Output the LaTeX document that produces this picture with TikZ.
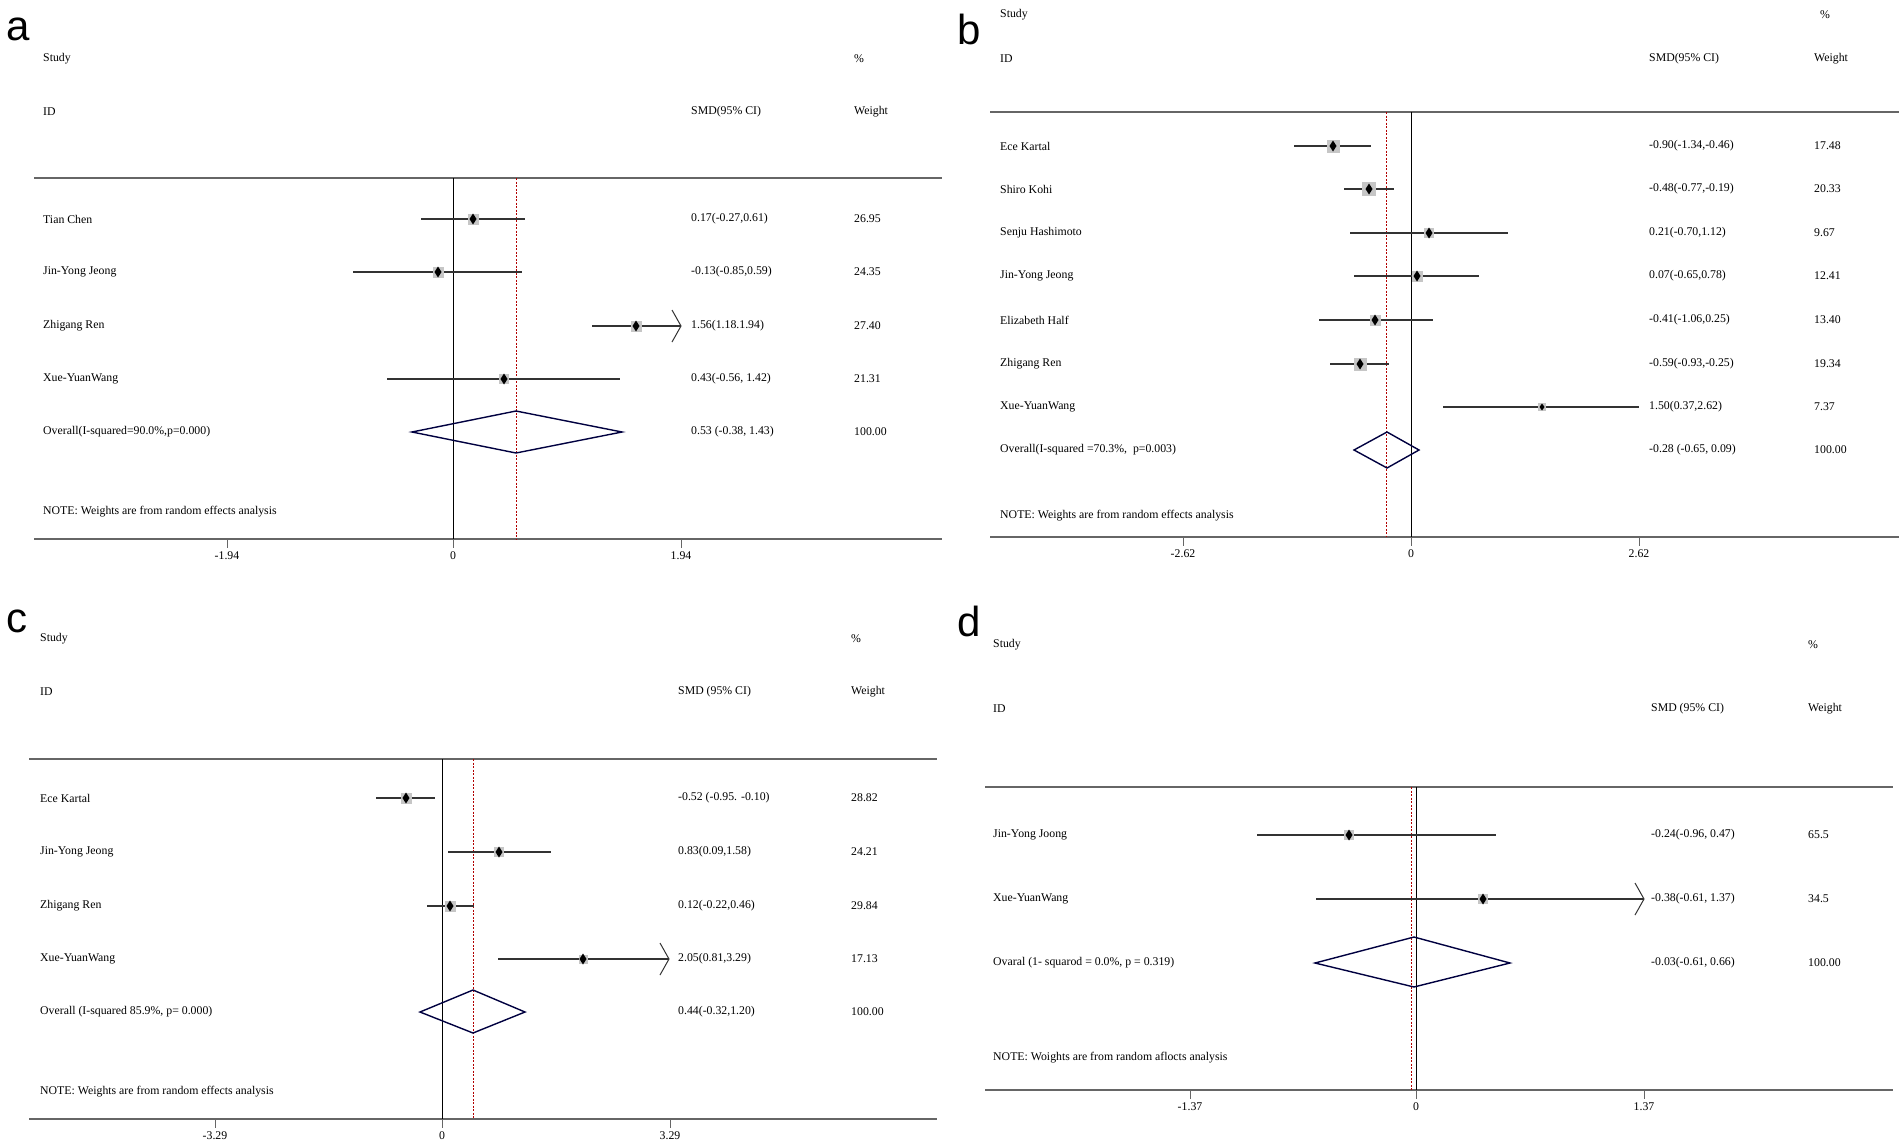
\documentclass[tikz,border=0pt]{standalone}
\usepackage{fontspec}
\setmainfont{Liberation Serif}
\newfontfamily\lettfont{Liberation Sans}
\begin{document}
\begin{tikzpicture}[x=1pt,y=-1pt,
  txt/.style={font=\fontsize{11.8}{13}\selectfont,anchor=west,inner sep=0pt},
  tlab/.style={font=\fontsize{11.8}{13}\selectfont,anchor=north,inner sep=0pt},
  plet/.style={font=\lettfont\fontsize{42}{42}\selectfont,anchor=west,inner sep=0pt},
  hline/.style={draw=gray!80!black,line width=1.2pt},
  zline/.style={draw=black,line width=0.7pt},
  rline/.style={draw=red!70!black,dashed,dash pattern=on 2pt off 1.5pt,line width=0.6pt},
  ci/.style={draw=black!80,line width=1.3pt},
  dia/.style={draw=blue!25!black,line width=1.4pt}]
\useasboundingbox (0,0) rectangle (1902,1146);
\fill[white] (0,0) rectangle (1902,1146);
\newcommand\frow[5]{%
  \draw[ci] (#1,#4) -- (#3,#4);
  \fill[gray!45] ({#2-#5/2},{#4-#5/2}) rectangle ++(#5,#5);
  \fill ({#2},{#4-5.5}) -- ({#2+3.5},{#4}) -- ({#2},{#4+5.5}) -- ({#2-3.5},{#4}) -- cycle;}
\newcommand\farrow[2]{\draw[ci,line width=1pt] ({#1-9},{#2-16}) -- (#1,#2) -- ({#1-9},{#2+16});}
\newcommand\fdia[6]{\draw[dia] (#1,#4) -- (#2,#5) -- (#3,#4) -- (#2,#6) -- cycle;}
\newcommand\ftick[4]{\draw[hline,line width=1pt] (#1,#2) -- ++(0,9); \node[tlab] at (#1,{#2+12}) {#3};}

% ---------------- panel a
\node[plet] (la) at (6,29) {a};
\node[txt] (sa) at (43,59) {Study};
\node[txt] (pa) at (854,59) {\%};
\node[txt] (ia) at (43,112) {ID};
\node[txt] (ma) at (691,112) {SMD(95\% CI)};
\node[txt] (wa) at (854,112) {Weight};
\draw[hline] (34,178) -- (942,178);
\draw[hline] (34,539) -- (942,539);
\draw[zline] (453,178) -- (453,539);
\draw[rline] (516,178) -- (516,539);
\ftick{227}{539}{-1.94}{}
\ftick{453}{539}{0}{}
\ftick{681}{539}{1.94}{}
\frow{421}{473}{525}{219}{11}
\frow{353}{438}{522}{272}{11}
\frow{592}{636}{681}{326}{11}
\farrow{681}{326}
\frow{387}{504}{620}{379}{10}
\fdia{412}{516}{622}{432}{411}{453}
\node[txt] at (43,219) {Tian Chen};
\node[txt] at (43,272) {Jin-Yong Jeong};
\node[txt] at (43,326) {Zhigang Ren};
\node[txt] at (43,379) {Xue-YuanWang};
\node[txt] at (43,432) {Overall(I-squared=90.0\%,p=0.000)};
\node[txt] at (43,512) {NOTE: Weights are from random effects analysis};
\node[txt] at (691,219) {0.17(-0.27,0.61)};
\node[txt] at (691,272) {-0.13(-0.85,0.59)};
\node[txt] at (691,326) {1.56(1.18.1.94)};
\node[txt] at (691,379) {0.43(-0.56, 1.42)};
\node[txt] at (691,432) {0.53 (-0.38, 1.43)};
\node[txt] at (854,219) {26.95};
\node[txt] at (854,272) {24.35};
\node[txt] at (854,326) {27.40};
\node[txt] at (854,379) {21.31};
\node[txt] at (854,432) {100.00};

% ---------------- panel b
\node[plet] (lb) at (957,29) {b};
\node[txt] at (1000,15) {Study};
\node[txt] at (1820,15) {\%};
\node[txt] at (1000,59) {ID};
\node[txt] at (1649,59) {SMD(95\% CI)};
\node[txt] at (1814,59) {Weight};
\draw[hline] (990,112) -- (1899,112);
\draw[hline] (990,537) -- (1899,537);
\draw[zline,line width=1pt] (1411,112) -- (1411,537);
\draw[rline] (1386,112) -- (1386,537);
\ftick{1183}{537}{-2.62}{}
\ftick{1411}{537}{0}{}
\ftick{1639}{537}{2.62}{}
\frow{1294}{1333}{1371}{146}{13}
\frow{1344}{1369}{1394}{189}{14}
\frow{1350}{1429}{1508}{233}{10}
\frow{1354}{1417}{1479}{276}{11}
\frow{1319}{1375}{1433}{320}{11}
\frow{1330}{1360}{1389}{364}{13}
\draw[ci] (1443,407) -- (1639,407);
\fill[gray!45] (1538,403) rectangle ++(8,8);
\fill (1542,403.5) -- (1544.5,407) -- (1542,410.5) -- (1539.5,407) -- cycle;
\fdia{1354}{1387}{1419}{450}{432}{468}
\node[txt] at (1000,146) {Ece Kartal};
\node[txt] at (1000,189) {Shiro Kohi};
\node[txt] at (1000,233) {Senju Hashimoto};
\node[txt] at (1000,276) {Jin-Yong Jeong};
\node[txt] at (1000,320) {Elizabeth Half};
\node[txt] at (1000,364) {Zhigang Ren};
\node[txt] at (1000,407) {Xue-YuanWang};
\node[txt] at (1000,450) {Overall(I-squared =70.3\%,\ \ p=0.003)};
\node[txt] at (1000,516) {NOTE: Weights are from random effects analysis};
\node[txt] at (1649,146) {-0.90(-1.34,-0.46)};
\node[txt] at (1649,189) {-0.48(-0.77,-0.19)};
\node[txt] at (1649,233) {0.21(-0.70,1.12)};
\node[txt] at (1649,276) {0.07(-0.65,0.78)};
\node[txt] at (1649,320) {-0.41(-1.06,0.25)};
\node[txt] at (1649,364) {-0.59(-0.93,-0.25)};
\node[txt] at (1649,407) {1.50(0.37,2.62)};
\node[txt] at (1649,450) {-0.28 (-0.65, 0.09)};
\node[txt] at (1814,146) {17.48};
\node[txt] at (1814,189) {20.33};
\node[txt] at (1814,233) {9.67};
\node[txt] at (1814,276) {12.41};
\node[txt] at (1814,320) {13.40};
\node[txt] at (1814,364) {19.34};
\node[txt] at (1814,407) {7.37};
\node[txt] at (1814,450) {100.00};

% ---------------- panel c
\node[plet] (lc) at (6,621) {c};
\node[txt] at (40,639) {Study};
\node[txt] at (851,639) {\%};
\node[txt] at (40,692) {ID};
\node[txt] at (678,692) {SMD (95\% CI)};
\node[txt] at (851,692) {Weight};
\draw[hline] (29,759) -- (937,759);
\draw[hline] (29,1119) -- (937,1119);
\draw[zline] (442,759) -- (442,1119);
\draw[rline] (473,759) -- (473,1119);
\ftick{215}{1119}{-3.29}{}
\ftick{442}{1119}{0}{}
\ftick{670}{1119}{3.29}{}
\frow{376}{406}{435}{798}{11}
\frow{448}{499}{551}{852}{10}
\frow{427}{450}{474}{906}{11}
\frow{498}{583}{669}{959}{9}
\farrow{669}{959}
\fdia{420}{473}{525}{1012}{990}{1033}
\node[txt] at (40,798) {Ece Kartal};
\node[txt] at (40,852) {Jin-Yong Jeong};
\node[txt] at (40,906) {Zhigang Ren};
\node[txt] at (40,959) {Xue-YuanWang};
\node[txt] at (40,1012) {Overall (I-squared 85.9\%, p= 0.000)};
\node[txt] at (40,1092) {NOTE: Weights are from random effects analysis};
\node[txt] at (678,798) {-0.52 (-0.95. -0.10)};
\node[txt] at (678,852) {0.83(0.09,1.58)};
\node[txt] at (678,906) {0.12(-0.22,0.46)};
\node[txt] at (678,959) {2.05(0.81,3.29)};
\node[txt] at (678,1012) {0.44(-0.32,1.20)};
\node[txt] at (851,798) {28.82};
\node[txt] at (851,852) {24.21};
\node[txt] at (851,906) {29.84};
\node[txt] at (851,959) {17.13};
\node[txt] at (851,1012) {100.00};

% ---------------- panel d
\node[plet] (ld) at (957,621) {d};
\node[txt] at (993,645) {Study};
\node[txt] at (1808,645) {\%};
\node[txt] at (993,709) {ID};
\node[txt] at (1651,709) {SMD (95\% CI)};
\node[txt] at (1808,709) {Weight};
\draw[hline] (985,787) -- (1893,787);
\draw[hline] (985,1090) -- (1893,1090);
\draw[zline,line width=1pt] (1416,787) -- (1416,1090);
\draw[rline] (1411,787) -- (1411,1090);
\ftick{1190}{1090}{-1.37}{}
\ftick{1416}{1090}{0}{}
\ftick{1644}{1090}{1.37}{}
\frow{1257}{1349}{1496}{835}{10}
\frow{1316}{1483}{1644}{899}{10}
\farrow{1644}{899}
\fdia{1315}{1414}{1510}{963}{937}{987}
\node[txt] at (993,835) {Jin-Yong Joong};
\node[txt] at (993,899) {Xue-YuanWang};
\node[txt] at (993,963) {Ovaral (1- squarod = 0.0\%, p = 0.319)};
\node[txt] at (993,1058) {NOTE: Woights are from random aflocts analysis};
\node[txt] at (1651,835) {-0.24(-0.96, 0.47)};
\node[txt] at (1651,899) {-0.38(-0.61, 1.37)};
\node[txt] at (1651,963) {-0.03(-0.61, 0.66)};
\node[txt] at (1808,835) {65.5};
\node[txt] at (1808,899) {34.5};
\node[txt] at (1808,963) {100.00};
\end{tikzpicture}
\end{document}
